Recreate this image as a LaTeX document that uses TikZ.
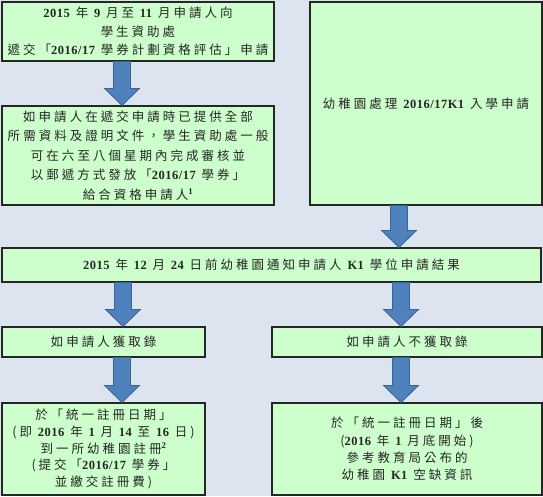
\documentclass[tikz,border=0pt]{standalone}
\usepackage{fontspec}
\setmainfont{Noto Sans CJK TC}[LetterSpace=24]
\newfontfamily\numf{Liberation Serif}[LetterSpace=4]
\newcommand\nm[1]{{\numf\bfseries #1}}
\usetikzlibrary{calc}
\definecolor{bgc}{HTML}{DCE4F0}
\definecolor{boxgreen}{HTML}{CCFFCC}
\definecolor{arrfill}{HTML}{4F81BD}
\definecolor{arrline}{HTML}{3A6496}
\tikzset{
  box/.style={draw=black!85, line width=1.1pt, fill=boxgreen, inner sep=0pt,
    align=center, text=black!85},
  barr/.style={fill=arrfill, draw=arrline, line width=0.8pt, line join=miter}
}
\newcommand\barrow[3]{%
  \draw[barr] let \p1=(#1.south), \p2=(#2.north) in
   (#3pt-8.5pt,\y1) -- (#3pt-8.5pt,\y2+17pt) -- (#3pt-17.5pt,\y2+17pt) --
   (#3pt,\y2) -- (#3pt+17.5pt,\y2+17pt) -- (#3pt+8.5pt,\y2+17pt) --
   (#3pt+8.5pt,\y1) -- cycle;}
\begin{document}
\begin{tikzpicture}[x=1pt,y=-1pt]
\useasboundingbox (0,0) rectangle (543,496);
\fill[bgc] (0,0) rectangle (543,496);

\node[box, minimum width=272pt, minimum height=59pt,
  font=\fontsize{12.5}{18.5}\selectfont] (b1) at (138,31.5)
  {\nm{2015} 年 \nm{9} 月至 \nm{11} 月申請人向\\
   學生資助處\\
   遞交「\nm{2016/17} 學券計劃資格評估」申請};

\node[box, minimum width=272pt, minimum height=99pt,
  font=\fontsize{12.5}{19.5}\selectfont] (b2) at (138,155.5)
  {如申請人在遞交申請時已提供全部\\
   所需資料及證明文件，學生資助處一般\\
   可在六至八個星期內完成審核並\\
   以郵遞方式發放「\nm{2016/17} 學券」\\
   給合資格申請人\textsuperscript{\nm{1}}};

\node[box, minimum width=232pt, minimum height=203pt,
  font=\fontsize{12.5}{18}\selectfont] (b3) at (426,103.5)
  {幼稚園處理 \nm{2016/17K1} 入學申請};

\node[box, minimum width=539pt, minimum height=34pt,
  font=\fontsize{12.5}{18}\selectfont] (b4) at (271.5,265)
  {\nm{2015} 年 \nm{12} 月 \nm{24} 日前幼稚園通知申請人 \nm{K1} 學位申請結果};

\node[box, minimum width=203pt, minimum height=30pt,
  font=\fontsize{12.5}{18}\selectfont] (b5) at (103.5,342)
  {如申請人獲取錄};

\node[box, minimum width=270pt, minimum height=30pt,
  font=\fontsize{12.5}{18}\selectfont] (b6) at (407,342)
  {如申請人不獲取錄};

\node[box, minimum width=203pt, minimum height=92pt,
  font=\fontsize{12.5}{16.8}\selectfont] (b7) at (103.5,449)
  {於「統一註冊日期」\\
   (即 \nm{2016} 年 \nm{1} 月 \nm{14} 至 \nm{16} 日)\\
   到一所幼稚園註冊\textsuperscript{\nm{2}}\\
   (提交「\nm{2016/17} 學券」\\
   並繳交註冊費)};

\node[box, minimum width=270pt, minimum height=92pt,
  font=\fontsize{12.5}{17.2}\selectfont] (b8) at (407,449)
  {於「統一註冊日期」後\\
   (\nm{2016} 年 \nm{1} 月底開始)\\
   參考教育局公布的\\
   幼稚園 \nm{K1} 空缺資訊};

\barrow{b1}{b2}{122}
\barrow{b3}{b4}{399}
\barrow{b4}{b5}{123}
\barrow{b4}{b6}{401}
\barrow{b5}{b7}{122}
\barrow{b6}{b8}{401}
\end{tikzpicture}
\end{document}
